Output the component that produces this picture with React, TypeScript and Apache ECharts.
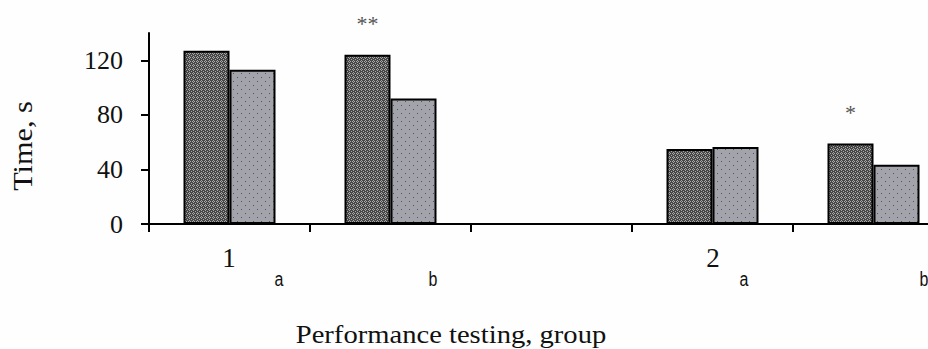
import React, { useEffect, useRef } from "react";
import * as echarts from "echarts";

const categories = ["1a", "1b", "", "2a", "2b"];
const seriesDark = [127, 124, null, 55, 59];
const seriesLight = [113, 92, null, 56.5, 43.5];
const significance = ["", "**", "", "", "*"];
const yTicks = [0, 40, 80, 120];
const groupLabels = [
  { text: "1", x: 229, y: 258 },
  { text: "2", x: 713, y: 258 },
];
const subLabels = [
  { text: "a", x: 279, y: 279 },
  { text: "b", x: 433, y: 279 },
  { text: "a", x: 744, y: 279 },
  { text: "b", x: 924, y: 279 },
];

function makeDark(): HTMLCanvasElement {
  const c = document.createElement("canvas");
  c.width = 4;
  c.height = 4;
  const g = c.getContext("2d")!;
  g.fillStyle = "#474747";
  g.fillRect(0, 0, 4, 4);
  g.fillStyle = "#a8a8a8";
  [[1, 0], [0, 1], [2, 1], [1, 2], [3, 3]].forEach(([x, y]) => g.fillRect(x, y, 1, 1));
  return c;
}
function makeLight(): HTMLCanvasElement {
  const c = document.createElement("canvas");
  c.width = 8;
  c.height = 8;
  const g = c.getContext("2d")!;
  g.fillStyle = "#a3a3ab";
  g.fillRect(0, 0, 8, 8);
  g.fillStyle = "#555555";
  g.fillRect(1, 1, 1, 1);
  g.fillRect(5, 5, 1, 1);
  return c;
}

export default function App() {
  const ref = useRef<HTMLDivElement>(null);
  useEffect(() => {
    if (!ref.current) return;
    const chart = echarts.init(ref.current, null, { renderer: "svg" });
    const serif = "Liberation Serif, Times New Roman, serif";
    const sans = "Liberation Sans, Arial, Helvetica, sans-serif";
    const dark = { image: makeDark(), repeat: "repeat", imageWidth: 4, imageHeight: 4 } as any;
    const light = { image: makeLight(), repeat: "repeat", imageWidth: 8, imageHeight: 8 } as any;
    chart.setOption({
      animation: false,
      backgroundColor: "#fefefe",
      grid: {
        left: 149,
        width: 805,
        top: 33,
        height: 191,
        containLabel: false,
        outerBoundsMode: "none",
      },
      xAxis: {
        type: "category",
        data: categories,
        boundaryGap: true,
        axisLine: { lineStyle: { color: "#000", width: 2 } },
        axisTick: { show: true, length: 8, lineStyle: { color: "#000", width: 2 } },
        axisLabel: { show: false },
        splitLine: { show: false },
      },
      yAxis: {
        type: "value",
        min: 0,
        max: 140,
        interval: 40,
        axisLine: { show: true, lineStyle: { color: "#000", width: 2 } },
        axisTick: { show: true, length: 8, customValues: yTicks, lineStyle: { color: "#000", width: 2 } },
        axisLabel: {
          customValues: yTicks,
          margin: 26,
          fontFamily: serif,
          fontSize: 26,
          color: "#111",
        },
        splitLine: { show: false },
      },
      series: [
        {
          type: "bar",
          data: seriesDark.map((v, i) => ({
            value: v,
            label: significance[i]
              ? {
                  show: true,
                  position: "top",
                  distance: 20,
                  formatter: significance[i],
                  fontFamily: serif,
                  fontSize: 22,
                  color: "#555",
                }
              : undefined,
          })),
          barWidth: 46,
          barGap: "0%",
          itemStyle: { color: dark, borderColor: "#000", borderWidth: 2 },
        },
        {
          type: "bar",
          data: seriesLight,
          barWidth: 46,
          barGap: "0%",
          itemStyle: { color: light, borderColor: "#000", borderWidth: 2 },
        },
      ],
      graphic: [
        ...groupLabels.map((l) => ({
          type: "text",
          x: l.x,
          y: l.y,
          style: {
            text: l.text,
            fontFamily: serif,
            fontSize: 27,
            fill: "#111",
            textAlign: "center",
            textVerticalAlign: "middle",
          },
        })),
        ...subLabels.map((l) => ({
          type: "text",
          x: l.x,
          y: l.y,
          scaleY: 1.3,
          style: {
            text: l.text,
            fontFamily: sans,
            fontSize: 16,
            fill: "#111",
            textAlign: "center",
            textVerticalAlign: "middle",
          },
        })),
        {
          type: "text",
          x: 23,
          y: 146,
          rotation: Math.PI / 2,
          scaleX: 1.12,
          style: {
            text: "Time, s",
            fontFamily: serif,
            fontSize: 27,
            fill: "#111",
            textAlign: "center",
            textVerticalAlign: "middle",
          },
        },
        {
          type: "text",
          x: 451,
          y: 334,
          scaleX: 1.1,
          style: {
            text: "Performance testing, group",
            fontFamily: serif,
            fontSize: 26,
            fill: "#111",
            textAlign: "center",
            textVerticalAlign: "middle",
          },
        },
      ],
    } as any);
    return () => chart.dispose();
  }, []);
  return (
    <div
      ref={ref}
      style={{ position: "fixed", left: 0, top: 0, width: 928, height: 349 }}
    />
  );
}
